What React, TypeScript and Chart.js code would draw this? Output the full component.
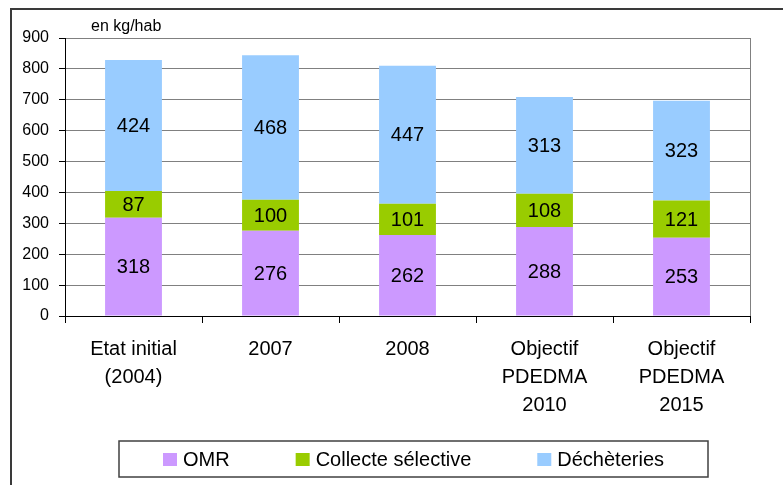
import React, { useEffect, useRef } from "react";
import { Chart, registerables } from "chart.js";

Chart.register(...registerables);

const categories: (string | string[])[] = [
  ["Etat initial", "(2004)"],
  "2007",
  "2008",
  ["Objectif", "PDEDMA", "2010"],
  ["Objectif", "PDEDMA", "2015"],
];
const omr = [318, 276, 262, 288, 253];
const collecte = [87, 100, 101, 108, 121];
const decheteries = [424, 468, 447, 313, 323];
const seriesLabels = ["OMR", "Collecte sélective", "Déchèteries"];
const seriesColors = ["#CC99FF", "#99CC00", "#99CCFF"];
const unitLabel = "en kg/hab";

const FONT = "'Liberation Sans', Arial, sans-serif";

const framePlugin = {
  id: "frame",
  beforeDraw(chart: any) {
    const ctx = chart.ctx;
    ctx.save();
    ctx.fillStyle = "#ffffff";
    ctx.fillRect(0, 0, chart.width, chart.height);
    ctx.strokeStyle = "#3a3a3a";
    ctx.lineWidth = 2;
    ctx.beginPath();
    ctx.moveTo(11, chart.height);
    ctx.lineTo(11, 9);
    ctx.lineTo(chart.width, 9);
    ctx.stroke();
    ctx.restore();
  },
  afterDraw(chart: any) {
    const ctx = chart.ctx;
    const a = chart.chartArea;
    ctx.save();
    // right border of plot area
    ctx.strokeStyle = "#808080";
    ctx.lineWidth = 1;
    ctx.beginPath();
    ctx.moveTo(Math.round(a.right) + 0.5, a.top);
    ctx.lineTo(Math.round(a.right) + 0.5, a.bottom);
    ctx.stroke();
    // unit label
    ctx.fillStyle = "#000";
    ctx.font = `16px ${FONT}`;
    ctx.textAlign = "left";
    ctx.textBaseline = "alphabetic";
    ctx.fillText(unitLabel, a.left + 26, 31);
    // legend
    const boxL = 119, boxT = 441, boxR = 708, boxB = 477;
    ctx.strokeStyle = "#404040";
    ctx.lineWidth = 1.5;
    ctx.strokeRect(boxL, boxT, boxR - boxL, boxB - boxT);
    ctx.font = `20px ${FONT}`;
    const sq = 14, gapText = 6, gapItem = 66;
    const datasets = chart.data.datasets;
    const widths = datasets.map((d: any) => sq + gapText + ctx.measureText(d.label).width);
    const total = widths.reduce((s: number, w: number) => s + w, 0) + gapItem * (datasets.length - 1);
    let x = (boxL + boxR) / 2 - total / 2;
    const cy = (boxT + boxB) / 2 + 1;
    datasets.forEach((d: any, i: number) => {
      ctx.fillStyle = d.backgroundColor;
      ctx.fillRect(x, cy - 7, sq, 13);
      ctx.fillStyle = "#000";
      ctx.textBaseline = "middle";
      ctx.fillText(d.label, x + sq + gapText, cy);
      x += widths[i] + gapItem;
    });
    ctx.restore();
  },
  afterDatasetsDraw(chart: any) {
    const ctx = chart.ctx;
    ctx.save();
    ctx.fillStyle = "#000";
    ctx.font = `20px ${FONT}`;
    ctx.textAlign = "center";
    ctx.textBaseline = "middle";
    chart.data.datasets.forEach((d: any, di: number) => {
      const meta = chart.getDatasetMeta(di);
      meta.data.forEach((el: any, i: number) => {
        const y = (el.y + el.base) / 2;
        ctx.fillText(String(d.data[i]), el.x, y + 1);
      });
    });
    ctx.restore();
  },
};

export default function App() {
  const ref = useRef<HTMLCanvasElement | null>(null);
  useEffect(() => {
    if (!ref.current) return;
    const chart = new Chart(ref.current, {
      type: "bar",
      data: {
        labels: categories,
        datasets: [omr, collecte, decheteries].map((data, i) => ({
          label: seriesLabels[i],
          data,
          backgroundColor: seriesColors[i],
          borderWidth: 0,
          categoryPercentage: 1,
          barPercentage: 0.415,
        })),
      },
      options: {
        responsive: false,
        animation: false,
        layout: { padding: { left: 0, top: 38, right: 33, bottom: 0 } },
        plugins: {
          legend: { display: false },
          tooltip: { enabled: false },
          title: { display: false },
        },
        scales: {
          x: {
            stacked: true,
            afterFit: (s: any) => {
              s.height = 169;
            },
            grid: {
              offset: true,
              drawOnChartArea: false,
              drawTicks: true,
              tickLength: 7,
              tickColor: "#000",
            },
            border: { color: "#000", width: 1 },
            ticks: {
              color: "#000",
              font: { family: FONT, size: 20, lineHeight: 1.4 },
              padding: 12,
              maxRotation: 0,
              autoSkip: false,
            },
          },
          y: {
            stacked: true,
            min: 0,
            max: 900,
            afterFit: (s: any) => {
              s.width = 65;
            },
            grid: {
              color: "#808080",
              lineWidth: 1,
              tickLength: 6,
              tickColor: "#000",
            },
            border: { color: "#000", width: 1 },
            ticks: {
              stepSize: 100,
              color: "#000",
              font: { family: FONT, size: 16 },
              padding: 10,
            },
          },
        },
      },
      plugins: [framePlugin],
    });
    return () => chart.destroy();
  }, []);
  return (
    <div style={{ position: "absolute", left: 0, top: 0, width: 783, height: 485 }}>
      <canvas ref={ref} width={783} height={485} style={{ display: "block" }} />
    </div>
  );
}
